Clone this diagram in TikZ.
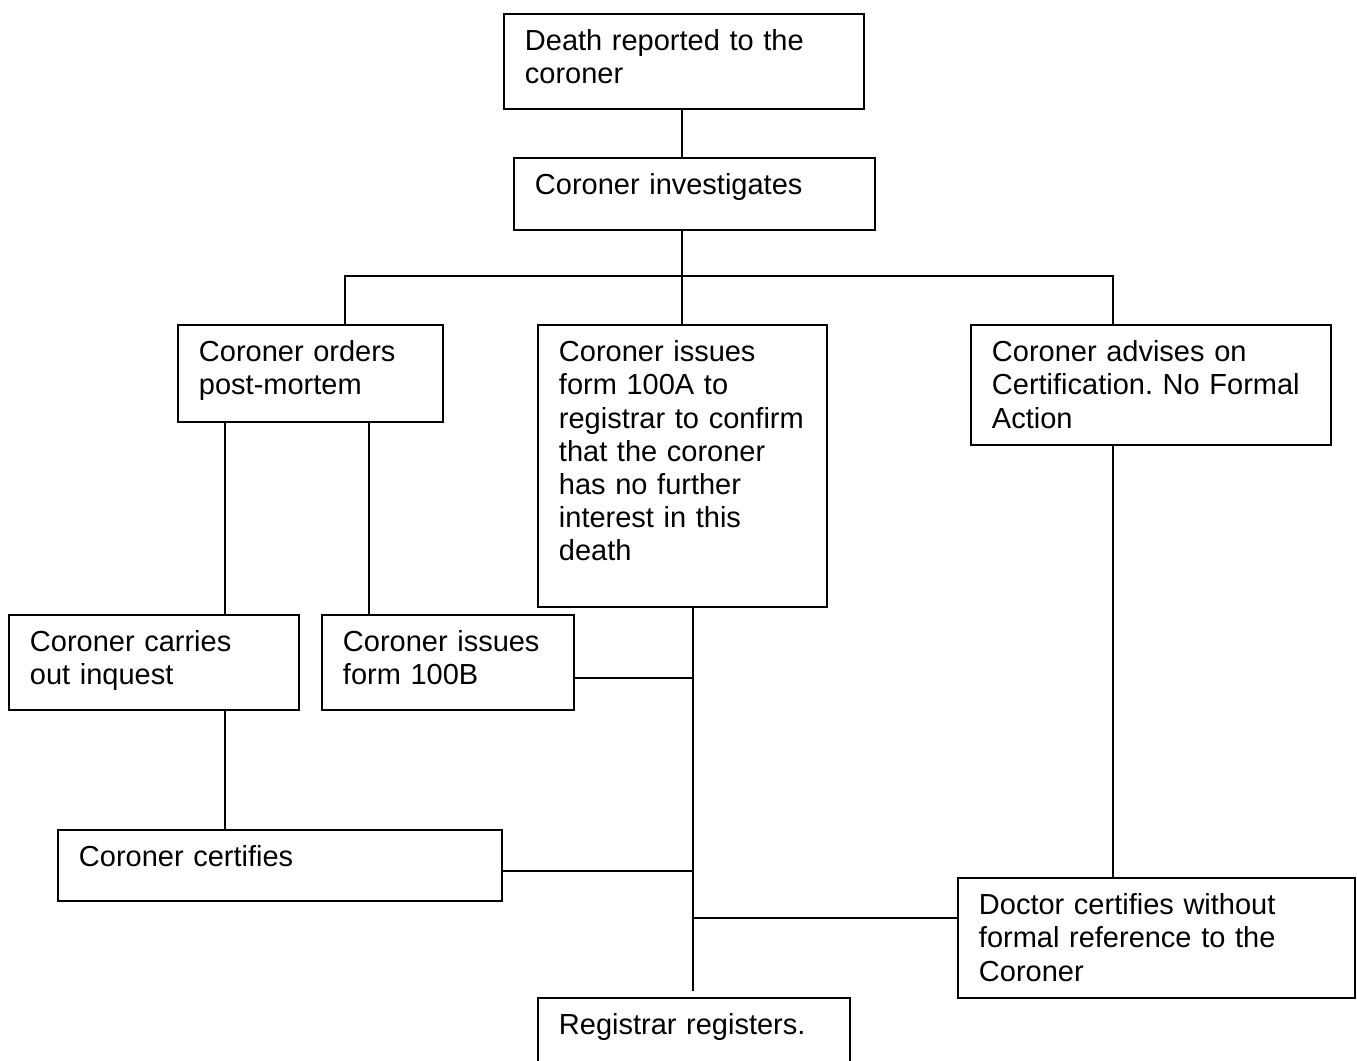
\documentclass[tikz,border=0pt]{standalone}
\usepackage{fontspec}
\setmainfont{Liberation Sans}
\usepackage{tikz}
\usetikzlibrary{calc, positioning}
\frenchspacing
\tikzset{
  stagebox/.style = {draw=black, line width=1.1pt, rectangle, anchor=north west,
                     align=left, inner xsep=0.42cm, inner ysep=0pt,
                     text height=0.74cm, font=\fontsize{16.5}{18.8}\selectfont},
  wire/.style     = {draw=black, line width=1.1pt}
}

\begin{document}
\begin{tikzpicture}[x=0.02cm, y=-0.02cm]
  \useasboundingbox (0,0) rectangle (1357,1061);
  % boxes, top row to bottom
  \node[stagebox, text width=6.36cm, text depth=1.16cm] (report) at (503,13)
    {Death reported to the\\coroner};
  \node[stagebox, text width=6.38cm, text depth=0.70cm] (invest) at (513,157)
    {Coroner investigates};
  \node[stagebox, text width=4.46cm, text depth=1.20cm] (postmortem) at (177,324)
    {Coroner orders\\post-mortem};
  \node[stagebox, text width=4.94cm, text depth=4.90cm] (formA) at (537,324)
    {Coroner issues\\form 100A to\\registrar to confirm\\that the coroner\\has no further\\interest in this\\death};
  \node[stagebox, text width=6.36cm, text depth=1.66cm] (advise) at (970,324)
    {Coroner advises on\\Certification. No Formal\\Action};
  \node[stagebox, text width=4.96cm, text depth=1.16cm] (inquest) at (8,614)
    {Coroner carries\\out inquest};
  \node[stagebox, text width=4.20cm, text depth=1.16cm] (formB) at (321,614)
    {Coroner issues\\form 100B};
  \node[stagebox, text width=8.04cm, text depth=0.68cm] (certify) at (57,829)
    {Coroner certifies};
  \node[stagebox, text width=7.10cm, text depth=1.66cm] (doctor) at (957,877)
    {Doctor certifies without\\formal reference to the\\Coroner};
  \node[stagebox, text width=5.40cm, text depth=0.86cm] (registrar) at (537,997)
    {Registrar registers.};

  % bend points
  \coordinate (hub) at (682,276);
  \coordinate (splitL) at (345,276);
  \coordinate (splitR) at (1113,276);
  \coordinate (pmL) at (225,0);
  \coordinate (pmR) at (369,0);
  \coordinate (spine) at (693,991);
  \coordinate (jB) at (693,678);
  \coordinate (jC) at (693,871);
  \coordinate (jD) at (693,918);

  % connectors
  \draw[wire] (report.south -| hub) -- (invest.north -| hub);
  \draw[wire] (invest.south -| hub) -- (hub) -- (formA.north -| hub);
  \draw[wire] (postmortem.north -| splitL) -- (splitL) -- (splitR) -- (advise.north -| splitR);
  \draw[wire] (postmortem.south -| pmL) -- (inquest.north -| pmL);
  \draw[wire] (postmortem.south -| pmR) -- (formB.north -| pmR);
  \draw[wire] (inquest.south -| pmL) -- (certify.north -| pmL);
  \draw[wire] (formA.south -| spine) -- (spine);
  \draw[wire] (jB -| formB.east) -- (jB);
  \draw[wire] (jC -| certify.east) -- (jC);
  \draw[wire] (jD) -- (jD -| doctor.west);
  \draw[wire] (advise.south -| splitR) -- (doctor.north -| splitR);
\end{tikzpicture}
\end{document}
